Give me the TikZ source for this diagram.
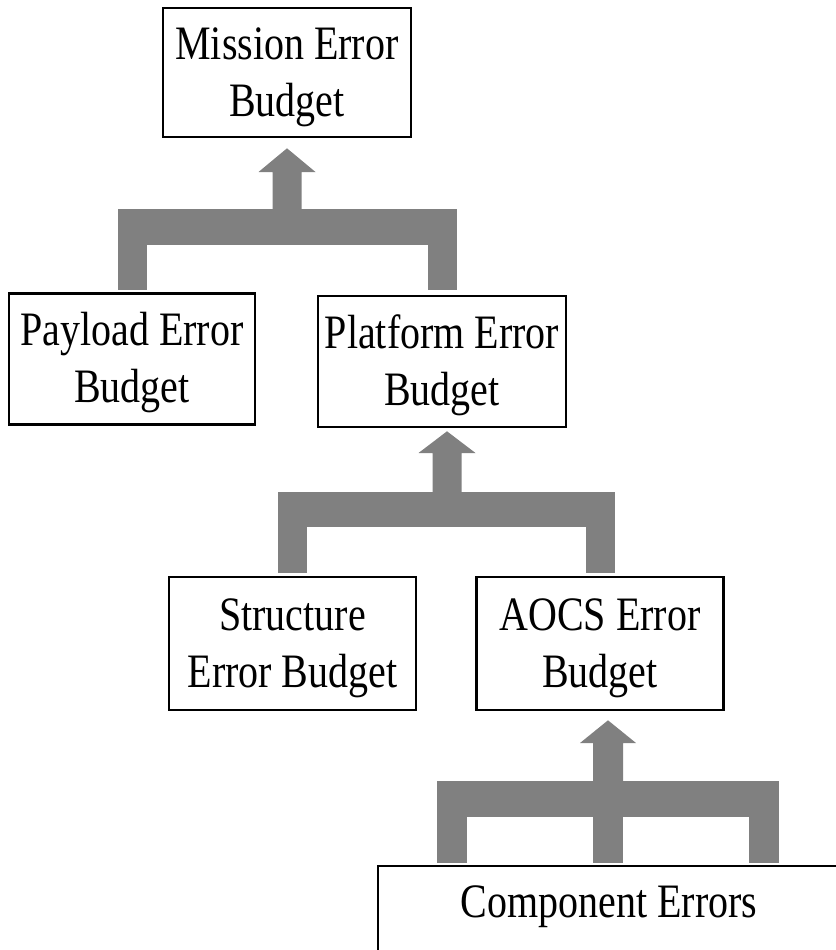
\documentclass[tikz,border=0pt]{standalone}
\usepackage{fontspec}
\setmainfont[FakeStretch=0.833]{Liberation Serif}
\usetikzlibrary{calc}
\definecolor{flowgray}{HTML}{808080}
\tikzset{
  budget/.style={draw=black, line width=2.6pt, fill=white, inner sep=0pt,
    align=center, font=\fontsize{48pt}{57pt}\selectfont,
    text height=97pt, text depth=10pt,
    minimum width=#1, minimum height=131pt},
  budget/.default=247pt,
  flow/.style={fill=flowgray},
}
\begin{document}
\begin{tikzpicture}[x=1pt, y=-1pt]
\useasboundingbox (0,0) rectangle (835,950);

% budget boxes
\node[budget=248pt, minimum height=129pt] (mission)   at (287,72.5)  {Mission Error\\Budget};
\node[budget=246pt]                     (payload)   at (132,359)   {Payload Error\\Budget};
\node[budget=248pt]                     (platform)  at (442,361.5) {Platform Error\\Budget};
\node[budget=247pt, minimum height=133pt] (structure) at (292.5,643.5) {Structure\\Error Budget};
\node[budget=247pt, minimum height=133pt] (aocs)      at (600,643.5) {AOCS Error\\Budget};
\node[budget=462pt, minimum height=94pt, text height=33pt, text depth=25pt]
      (component) at (609,913) {Component Errors};

% payload + platform -> mission
\coordinate (t1) at (287,209);
\fill[flow] ($(payload.north |- 0,290)+(-14.5,0)$) rectangle ($(payload.north |- 0,209)+(14.5,0)$);
\fill[flow] ($(platform.north |- 0,290)+(-14.5,0)$) rectangle ($(platform.north |- 0,209)+(14.5,0)$);
\fill[flow] ($(payload.north |- 0,245)+(-14.5,0)$) rectangle ($(platform.north |- 0,209)+(14.5,0)$);
\fill[flow] (t1) ++(-14.5,0) -- ++(0,-37) -- ++(-14,0) -- ($(mission.south)+(0,10)$)
  -- ($(t1)+(28.5,-37)$) -- ++(-14,0) -- ($(t1)+(14.5,0)$) -- cycle;

% structure + aocs -> platform
\coordinate (t2) at (447,492);
\fill[flow] ($(structure.north |- 0,573)+(-14.5,0)$) rectangle ($(structure.north |- 0,492)+(14.5,0)$);
\fill[flow] ($(aocs.north |- 0,573)+(-14.5,0)$) rectangle ($(aocs.north |- 0,492)+(14.5,0)$);
\fill[flow] ($(structure.north |- 0,527)+(-14.5,0)$) rectangle ($(aocs.north |- 0,492)+(14.5,0)$);
\fill[flow] (t2) ++(-14.5,0) -- ++(0,-39) -- ++(-14,0) -- ($(platform.south)+(5,3)$)
  -- ($(t2)+(28.5,-39)$) -- ++(-14,0) -- ($(t2)+(14.5,0)$) -- cycle;

% component errors -> aocs
\coordinate (t3) at (608,781);
\coordinate (c1) at ($(component.north)+(-157.5,0)$);
\coordinate (c2) at ($(component.north)+(-1,0)$);
\coordinate (c3) at ($(component.north)+(154.5,0)$);
\foreach \c in {c1,c2,c3}
  \fill[flow] ($(\c |- 0,863)+(-15,0)$) rectangle ($(\c |- 0,781)+(15,0)$);
\fill[flow] ($(c1 |- 0,817)+(-15,0)$) rectangle ($(c3 |- 0,781)+(15,0)$);
\fill[flow] (t3) ++(-15,0) -- ++(0,-38) -- ++(-13,0) -- ($(aocs.south)+(8,9)$)
  -- ($(t3)+(28,-38)$) -- ++(-13,0) -- ($(t3)+(15,0)$) -- cycle;
\end{tikzpicture}
\end{document}
